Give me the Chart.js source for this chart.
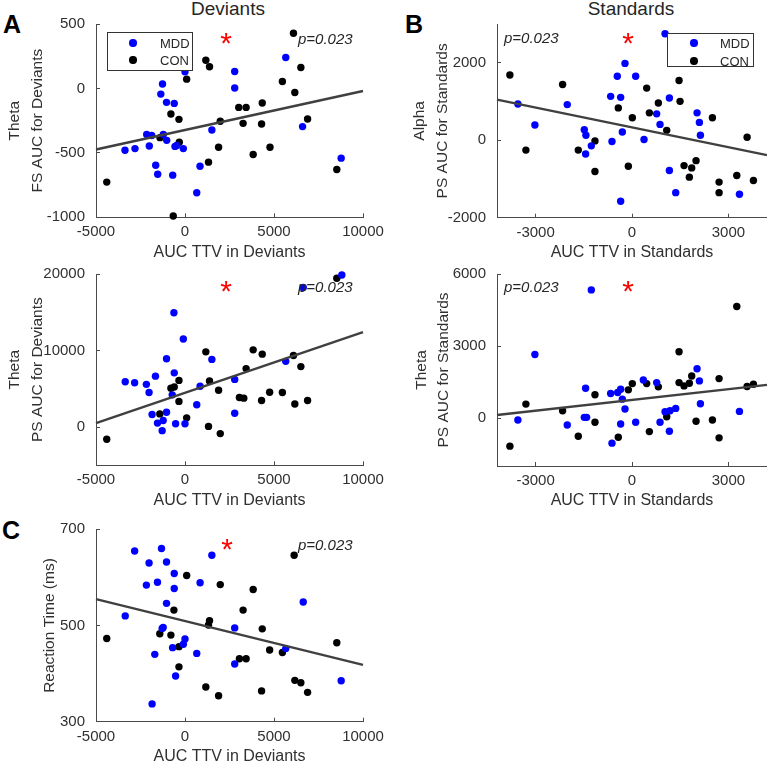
<!DOCTYPE html>
<html><head><meta charset="utf-8">
<script src="https://cdn.jsdelivr.net/npm/chart.js@4/dist/chart.umd.min.js"></script>
<style>
html,body{margin:0;padding:0;background:#fff;overflow:hidden;width:767px;height:765px;position:relative;font-family:"Liberation Sans",Arial,sans-serif;}
canvas{position:absolute;}
.t{position:absolute;white-space:nowrap;color:#262626;line-height:1;}
.letter{font-weight:bold;font-size:25px;color:#000;}
.ttl{font-size:19px;width:160px;text-align:center;}
.pv{font-style:italic;font-size:15px;}
.star{color:#ff0000;font-size:30px;width:40px;text-align:center;}
.leg{position:absolute;box-sizing:border-box;border:1px solid #333;background:#fff;}
.leg .d{position:absolute;width:7.4px;height:7.4px;border-radius:50%;}
.leg .l{position:absolute;font-size:13px;line-height:1;color:#262626;}
</style></head><body>

<div class="t letter" style="left:3px;top:12px;">A</div>
<div class="t letter" style="left:405px;top:12px;">B</div>
<div class="t letter" style="left:2px;top:518px;">C</div>
<div class="t ttl" style="left:148px;top:-1px;">Deviants</div>
<div class="t ttl" style="left:551px;top:-1px;">Standards</div>

<script>
// ---------- DATA ----------
// Panel A (top): Theta FS AUC for Deviants vs AUC TTV in Deviants
const aTopMddX = [0,-1264,-1358,-1038,-604,2792,2792,5660,6604,8774,1509,-3371,-2809,-2152,-1871,-2006,-1219,-1028,-562,-466,-95,-1646,-1534,-691,843,660];
const aTopMddY = [129,34,-44,-108,-116,131,3,240,-296,-541,-322,-480,-467,-357,-365,-447,-357,-403,-450,-442,-467,-596,-666,-673,-604,-809];
const aTopConX = [-4396,-660,94,1170,1377,-792,-340,-321,-1405,1321,1887,1981,3019,3434,3264,4340,4302,3830,4774,5472,6170,6094,6509,6887,8528];
const aTopConY = [-727,-990,72,219,168,-198,-240,-418,-382,-572,-456,-255,-147,-147,-271,-113,-276,-513,-456,54,-31,428,162,-237,-629];
const aTopFitX = [-5000,10000];
const aTopFitY = [-474,-20];

// Panel A (bottom): Theta PS AUC for Deviants
const aBotMddX = [-3358,-2830,-2170,-2019,-1660,-1849,-1547,-1226,-1283,-1038,-1038,-717,-604,-623,-528,-94,0,849,660,1509,2792,2792,5660,6642,8811];
const aBotMddY = [5923,5794,5579,4506,6652,1631,515,858,-472,1931,8927,4206,7082,14936,429,11502,429,5322,2918,8841,6223,1803,8584,18240,19871];
const aBotConX = [-4396,-1415,-792,-604,-340,-340,94,1170,1377,1321,1887,1981,3057,3302,3434,3830,4340,4302,4755,5472,6170,6094,6509,6887,8528];
const aBotConY = [-1588,1717,5064,5236,6094,3348,1202,9828,6009,86,4807,-858,3863,3777,7639,10086,9528,3476,4549,4506,3004,9356,7897,3476,19442];
const aBotFitX = [-5000,10000];
const aBotFitY = [515,12395];

// Panel C: Reaction Time (ms)
const cMddX = [-3358,-2830,-2019,-2170,-1321,-1038,-1547,-604,-604,-1038,-1283,-1226,-1698,-1849,-698,-528,0,-94,849,660,1509,2792,2792,5660,6642,8774];
const cMddY = [520,655,630,584,660,632,590,608,577,546,494,496,440,337,454,395,472,461,589,442,646,495,420,452,549,385];
const cConX = [-4396,-1415,-792,-623,-340,-340,94,1377,1321,1170,1981,1887,3057,3434,3264,3830,4340,4302,4755,5472,6132,6170,6509,6887,8528];
const cConY = [473,483,480,532,456,414,604,510,501,372,585,354,431,431,532,575,493,364,449,444,646,386,381,361,464];
const cFitX = [-5000,10000];
const cFitY = [555,418];

// Panel B (top): Alpha PS AUC for Standards vs AUC TTV in Standards
const bTopMddX = [1028,-218,-457,114,-664,-353,-2014,-3550,-3021,-1484,-1433,-1266,-1443,-623,-301,374,768,872,1163,2024,2097,2128,1163,1360,-353,3343];
const bTopMddY = [2749,1983,1651,1651,1132,1106,919,936,391,272,128,-145,-357,-34,213,17,681,409,1089,706,460,128,-783,-1353,-1574,-1396];
const bTopConX = [-3799,-3301,-2159,-1671,-1152,-1152,-426,10,-114,457,540,820,1080,1464,1495,1619,1858,1785,1993,2502,2709,2709,3260,3581,3778];
const bTopConY = [1685,-255,1438,-255,-17,-809,834,579,-672,1345,706,962,255,1540,1004,-655,-715,-953,-528,579,-1081,-1353,-911,77,-1038];
const bTopFitX = [-4200,4200];
const bTopFitY = [1047,-383];

// Panel B (bottom): Theta PS AUC for Standards
const bBotMddX = [-1266,-3021,-3550,-2014,-1484,-1412,-1443,-664,-446,-353,-301,-218,-353,-623,114,353,768,872,1028,1183,1360,1163,2024,2097,2128,3343];
const bBotMddY = [5338,2648,-83,-290,28,28,1241,1021,1062,1200,786,372,-248,-1048,-179,1586,1476,-179,262,303,400,-552,2055,1545,593,276];
const bBotConX = [-3799,-3301,-2159,-1671,-1152,-1152,-426,-114,10,457,540,820,1080,1464,1464,1619,1785,1858,1993,2502,2709,2709,3260,3581,3778];
const bBotConY = [-1172,579,303,-759,966,-179,-800,1172,1434,1434,-566,1297,55,2759,1476,1338,1448,1752,-138,-83,1641,-828,4648,1310,1407];
const bBotFitX = [-4200,4200];
const bBotFitY = [124,1379];

// Tick labels
const devXTicks = [-5000,0,5000,10000];
const stdXTicks = [-3000,0,3000];
const aTopYTicks = [-1000,-500,0,500];
const aBotYTicks = [0,10000,20000];
const cYTicks = [300,500,700];
const bTopYTicks = [-2000,0,2000];
const bBotYTicks = [0,3000,6000];

const groupNames = ['MDD','CON'];
const groupColors = ['#0000ff','#000000'];
const pText = 'p=0.023';

// ---------- DRAW ----------
const FAM = "'Liberation Sans', Arial, sans-serif";
const pts = (xs, ys) => xs.map((x, i) => ({x: x, y: ys[i]}));

function panel(cfg) {
  const cv = document.createElement('canvas');
  cv.width = cfg.w; cv.height = cfg.h;
  cv.style.left = cfg.left + 'px'; cv.style.top = cfg.top + 'px';
  cv.style.width = cfg.w + 'px'; cv.style.height = cfg.h + 'px';
  document.body.appendChild(cv);
  const yW = cfg.area.l - cfg.left;
  const xH = 50;
  const axisCol = '#4a4a4a';
  const txtCol = '#303030';
  new Chart(cv, {
    type: 'scatter',
    data: {datasets: [
      {type: 'line', data: pts(cfg.fitX, cfg.fitY), borderColor: '#404040', borderWidth: 2.4,
       pointRadius: 0, fill: false, tension: 0, clip: false},
      {label: groupNames[0], data: pts(cfg.mddX, cfg.mddY), backgroundColor: groupColors[0],
       borderWidth: 0, pointRadius: 3.7, clip: false},
      {label: groupNames[1], data: pts(cfg.conX, cfg.conY), backgroundColor: groupColors[1],
       borderWidth: 0, pointRadius: 3.7, clip: false}
    ]},
    options: {
      responsive: false, animation: false, devicePixelRatio: 1, events: [],
      layout: {padding: {left: 0, top: cfg.area.t - cfg.top,
        right: cfg.left + cfg.w - cfg.area.r,
        bottom: cfg.top + cfg.h - cfg.area.b - xH}},
      plugins: {legend: {display: false}, tooltip: {enabled: false}},
      scales: {
        x: {type: 'linear', position: 'bottom', min: cfg.xMin, max: cfg.xMax,
          afterBuildTicks: s => { s.ticks = cfg.xTicks.map(v => ({value: v})); },
          afterFit: s => { s.height = xH; },
          grid: {display: true, drawOnChartArea: false, drawTicks: true, tickLength: -4, color: axisCol, lineWidth: 1},
          border: {display: true, color: axisCol, width: 1},
          ticks: {padding: 10, color: txtCol, autoSkip: false, maxRotation: 0,
            font: {family: FAM, size: 15}, callback: v => String(v)},
          title: {display: true, text: cfg.xTitle, color: txtCol,
            font: {family: FAM, size: 16, lineHeight: 1.2}, padding: {top: 0, bottom: 5.4}}
        },
        y: {type: 'linear', position: 'left', min: cfg.yMin, max: cfg.yMax,
          afterBuildTicks: s => { s.ticks = cfg.yTicks.map(v => ({value: v})); },
          afterFit: s => { s.width = yW; },
          grid: {display: true, drawOnChartArea: false, drawTicks: true, tickLength: -4, color: axisCol, lineWidth: 1},
          border: {display: true, color: axisCol, width: 1},
          ticks: {padding: 15, color: txtCol, autoSkip: false,
            font: {family: FAM, size: 15}, callback: v => String(v)},
          title: {display: true, text: cfg.yTitle, color: txtCol,
            font: {family: FAM, size: 15.5, lineHeight: 1.45}, padding: {top: cfg.yTitlePad, bottom: 0}}
        }
      }
    }
  });
}

panel({left: 0, top: 0, w: 400, h: 275, area: {l: 96, t: 23, r: 363, b: 217.3},
  xMin: -5000, xMax: 10000, yMin: -1000, yMax: 500, xTicks: devXTicks, yTicks: aTopYTicks,
  mddX: aTopMddX, mddY: aTopMddY, conX: aTopConX, conY: aTopConY, fitX: aTopFitX, fitY: aTopFitY,
  xTitle: 'AUC TTV in Deviants', yTitle: ['Theta', 'FS AUC for Deviants'], yTitlePad: 3.75});

panel({left: 0, top: 250, w: 400, h: 275, area: {l: 96, t: 272.3, r: 363, b: 465.3},
  xMin: -5000, xMax: 10000, yMin: -5000, yMax: 20000, xTicks: devXTicks, yTicks: aBotYTicks,
  mddX: aBotMddX, mddY: aBotMddY, conX: aBotConX, conY: aBotConY, fitX: aBotFitX, fitY: aBotFitY,
  xTitle: 'AUC TTV in Deviants', yTitle: ['Theta', 'PS AUC for Deviants'], yTitlePad: 3.75});

panel({left: 0, top: 505, w: 400, h: 280, area: {l: 96, t: 529.3, r: 363, b: 721.7},
  xMin: -5000, xMax: 10000, yMin: 300, yMax: 700, xTicks: devXTicks, yTicks: cYTicks,
  mddX: cMddX, mddY: cMddY, conX: cConX, conY: cConY, fitX: cFitX, fitY: cFitY,
  xTitle: 'AUC TTV in Deviants', yTitle: 'Reaction Time (ms)', yTitlePad: 38.75});

panel({left: 405, top: 0, w: 400, h: 275, area: {l: 497, t: 22.7, r: 767, b: 217.7},
  xMin: -4200, xMax: 4200, yMin: -2000, yMax: 3000, xTicks: stdXTicks, yTicks: bTopYTicks,
  mddX: bTopMddX, mddY: bTopMddY, conX: bTopConX, conY: bTopConY, fitX: bTopFitX, fitY: bTopFitY,
  xTitle: 'AUC TTV in Standards', yTitle: ['Alpha', 'PS AUC for Standards'], yTitlePad: 3.75});

panel({left: 405, top: 250, w: 400, h: 275, area: {l: 497, t: 272.3, r: 767, b: 466},
  xMin: -4200, xMax: 4200, yMin: -2000, yMax: 6000, xTicks: stdXTicks, yTicks: bBotYTicks,
  mddX: bBotMddX, mddY: bBotMddY, conX: bBotConX, conY: bBotConY, fitX: bBotFitX, fitY: bBotFitY,
  xTitle: 'AUC TTV in Standards', yTitle: ['Theta', 'PS AUC for Standards'], yTitlePad: 5.5});

// ---------- ANNOTATIONS ----------
function addText(cls, txt, left, top) {
  const d = document.createElement('div');
  d.className = 't ' + cls; d.textContent = txt;
  d.style.left = left + 'px'; d.style.top = top + 'px';
  document.body.appendChild(d);
}
const pPos = [[298, 30.5], [298, 279], [298, 536.5], [504, 30], [504, 278.5]];
pPos.forEach(p => addText('pv', pText, p[0], p[1]));
const starPos = [[226, 36], [226, 284], [227, 542], [628, 36], [628, 284]];
starPos.forEach(s => addText('star', '*', s[0] - 20, s[1] - 8));

function legend(left, top, w, h, dotX, dotYs, txtX) {
  const b = document.createElement('div');
  b.className = 'leg';
  b.style.left = left + 'px'; b.style.top = top + 'px';
  b.style.width = w + 'px'; b.style.height = h + 'px';
  groupNames.forEach((g, i) => {
    const d = document.createElement('div');
    d.className = 'd'; d.style.background = groupColors[i];
    d.style.left = (dotX - 3.7 - 1) + 'px'; d.style.top = (dotYs[i] - 3.7 - 1) + 'px';
    b.appendChild(d);
    const l = document.createElement('div');
    l.className = 'l'; l.textContent = g;
    l.style.left = (txtX - 1) + 'px'; l.style.top = (dotYs[i] - 6.5 - 1) + 'px';
    b.appendChild(l);
  });
  document.body.appendChild(b);
}
legend(107, 32, 86, 39, 26, [11, 28], 53);
legend(667, 33, 87, 34, 27, [10, 28], 53);
</script>
</body></html>
